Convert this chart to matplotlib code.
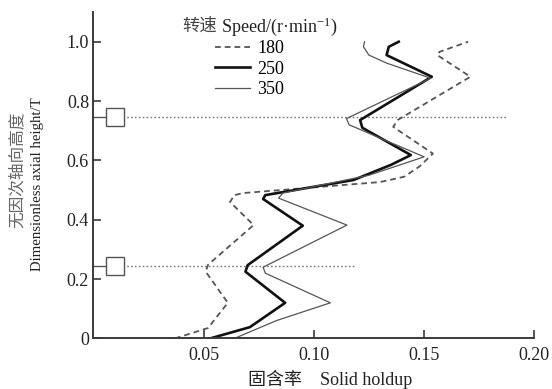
import matplotlib
matplotlib.use("Agg")
import matplotlib.pyplot as plt

plt.rcParams['font.family'] = ['Liberation Serif', 'Noto Sans CJK SC']
plt.rcParams['font.size'] = 13
plt.rcParams['mathtext.fontset'] = 'custom'
plt.rcParams['mathtext.rm'] = 'Liberation Serif'
plt.rcParams['mathtext.it'] = 'Liberation Serif:italic'

# Solid holdup profiles (x) against dimensionless axial height (y)
h_180 = [0.0, 0.035, 0.12, 0.225, 0.248, 0.382, 0.46, 0.483, 0.49, 0.527, 0.545, 0.58, 0.623, 0.713, 0.736, 0.882, 0.955, 0.966, 1.0]
s_180 = [0.037, 0.052, 0.061, 0.051, 0.052, 0.0727, 0.062, 0.064, 0.068, 0.130, 0.141, 0.148, 0.154, 0.136, 0.138, 0.171, 0.156, 0.157, 0.170]

h_250 = [0.0, 0.038, 0.12, 0.225, 0.247, 0.38, 0.47, 0.483, 0.534, 0.585, 0.618, 0.71, 0.736, 0.882, 0.955, 0.983, 1.0]
s_250 = [0.053, 0.071, 0.087, 0.069, 0.070, 0.095, 0.077, 0.078, 0.118, 0.135, 0.144, 0.122, 0.121, 0.1535, 0.133, 0.134, 0.1385]

h_350 = [0.0, 0.06, 0.12, 0.22, 0.24, 0.382, 0.473, 0.49, 0.55, 0.612, 0.72, 0.741, 0.877, 0.928, 0.955, 0.983, 1.0]
s_350 = [0.064, 0.083, 0.1075, 0.078, 0.077, 0.115, 0.084, 0.086, 0.125, 0.150, 0.116, 0.1148, 0.153, 0.133, 0.125, 0.1225, 0.123]

speeds = ['180', '250', '350']

# Impeller positions and the extent of their reference lines
impeller_h = [0.745, 0.245]
impeller_reach = [0.187, 0.119]
impeller_x = 0.010

x_ticks = [0.05, 0.10, 0.15, 0.20]
x_labels = ['0.05', '0.10', '0.15', '0.20']
y_ticks = [0, 0.2, 0.4, 0.6, 0.8, 1.0]
y_labels = ['0', '0.2', '0.4', '0.6', '0.8', '1.0']

fig = plt.figure(figsize=(5.52, 3.89), dpi=100)
ax = fig.add_axes([0.169, 0.130, 0.799, 0.839])

spine_c = '#3a3a3a'
for side in ['top', 'right']:
    ax.spines[side].set_visible(False)
for side in ['left', 'bottom']:
    ax.spines[side].set_color(spine_c)
    ax.spines[side].set_linewidth(1.4)

# impeller markers and their dotted level lines
for hy, reach in zip(impeller_h, impeller_reach):
    ax.plot([impeller_x, reach], [hy, hy], color='#777777', lw=1.0,
            ls=(0, (1.2, 1.6)), zorder=1)
    ax.plot([0, impeller_x - 0.004], [hy, hy], color='#555555', lw=1.0, zorder=2)
    ax.plot([impeller_x], [hy], marker='s', ms=13.5, mfc='white',
            mec='#555555', mew=1.0, zorder=3, clip_on=False)

l180, = ax.plot(s_180, h_180, color='#555555', lw=1.3, ls=(0, (3.2, 2.2)), label=speeds[0])
l250, = ax.plot(s_250, h_250, color='#111111', lw=1.9, label=speeds[1])
l350, = ax.plot(s_350, h_350, color='#555555', lw=0.9, label=speeds[2])

ax.set_xlim(0, 0.20)
ax.set_ylim(0, 1.1)
ax.set_xticks(x_ticks)
ax.set_xticklabels(x_labels)
ax.set_yticks(y_ticks)
ax.set_yticklabels(y_labels)
ax.tick_params(direction='in', length=6, width=1.2, color=spine_c,
               labelcolor='#222222', labelsize=13)
ax.tick_params(axis='x', pad=6)
ax.tick_params(axis='y', pad=3)

leg = fig.legend(handles=[l180, l250, l350], loc='upper left',
                 bbox_to_anchor=(0.389, 0.897), frameon=False,
                 fontsize=13, handlelength=1.95, handletextpad=0.4,
                 labelspacing=0.2, borderpad=0, borderaxespad=0)

# legend heading: Chinese part, then the unit with a superscript
t_cn = fig.text(0.330, 0.931, '转速', ha='left', va='center',
                fontsize=12.5, color='#444444')
ax.annotate(' Speed/(r·min$^{-1}$)', xy=(1.0, 0.5), xycoords=t_cn,
            ha='left', va='center', fontsize=13, color='#222222',
            annotation_clip=False)

fig.text(0.032, 0.563, '无因次轴向高度', rotation=90, ha='center', va='center',
         fontsize=12, color='#666666')
fig.text(0.068, 0.527, 'Dimensionless axial height/T', rotation=90,
         ha='center', va='center', fontsize=10.6, color='#222222')
fig.text(0.598, 0.025, '固含率    Solid holdup', ha='center', va='center',
         fontsize=13, color='#222222')

fig.savefig('out.png', dpi=100)
